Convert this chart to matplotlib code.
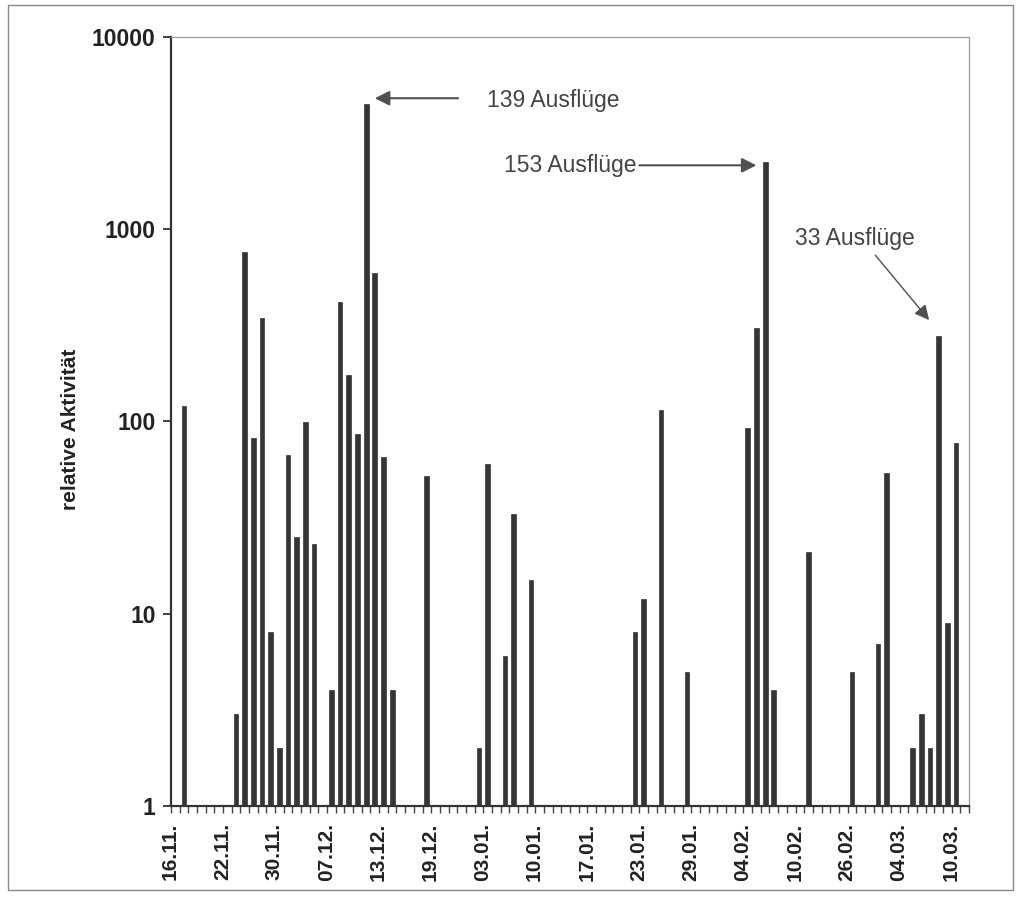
import matplotlib
matplotlib.use("Agg")
import matplotlib.pyplot as plt
import matplotlib.patches as patches
import matplotlib.transforms as mtransforms
import numpy as np

plt.rcParams['font.family'] = ['Liberation Sans', 'DejaVu Sans']

### data: category slot of each day with activity, and the activity value
n_slots = 92
slot = [1, 7, 8, 9, 10, 11, 12, 13, 14, 15, 16, 18, 19, 20, 21, 22, 23, 24, 25, 29,
        35, 36, 38, 39, 41, 53, 54, 56, 59,
        66, 67, 68, 69, 73, 78, 81, 82, 85, 86, 87, 88, 89, 90]
activity = [120, 3, 760, 82, 345, 8, 2, 67, 25, 99, 23, 4, 420, 175, 86, 4500, 590, 65, 4, 52,
            2, 60, 6, 33, 15, 8, 12, 115, 5,
            93, 305, 2250, 4, 21, 5, 7, 54, 2, 3, 2, 280, 9, 77]
date_labels = ["16.11.", "22.11.", "30.11.", "07.12.", "13.12.", "19.12.", "03.01.", "10.01.",
               "17.01.", "23.01.", "29.01.", "04.02.", "10.02.", "26.02.", "04.03.", "10.03."]
label_every = 6

fig = plt.figure(figsize=(10.2, 9.08), dpi=100)
ax = fig.add_axes([0.1676, 0.1123, 0.7824, 0.847])

bar_col = '#353535'
ax.bar(slot, np.array(activity) - 1, bottom=1, width=0.55, color=bar_col, edgecolor=bar_col, linewidth=0.5)

ax.set_yscale('log')
ax.set_ylim(1, 10000)
ax.set_xlim(-0.5, n_slots - 0.5)

# y axis
ax.set_yticks([1, 10, 100, 1000, 10000])
ax.set_yticklabels(["1", "10", "100", "1000", "10000"], fontweight='bold')
ax.yaxis.set_minor_locator(matplotlib.ticker.NullLocator())
ax.tick_params(axis='y', direction='out', length=6, width=1.2, labelsize=16.5, pad=5, colors='#222222')
fig.text(70 / 1020, 1 - 429 / 908, "relative Aktivität", rotation=90, ha='center', va='center',
         fontsize=15, fontweight='bold', color='#222222')

# x axis: small tick at each slot boundary, date every 6 slots
ax.set_xticks(np.arange(n_slots + 1) - 0.5, minor=True)
ax.set_xticks(np.arange(len(date_labels)) * label_every)
ax.set_xticklabels(date_labels, rotation=90, fontsize=15, fontweight='bold', color='#222222')
ax.tick_params(axis='x', which='major', length=0, pad=12)
ax.tick_params(axis='x', which='minor', direction='out', length=5, width=1.0, colors='#444444')
shift = mtransforms.ScaledTranslation(-5 / 100, 0, fig.dpi_scale_trans)
for lab in ax.get_xticklabels():
    lab.set_transform(lab.get_transform() + shift)

for s in ['left', 'bottom']:
    ax.spines[s].set_linewidth(1.6)
    ax.spines[s].set_color('#333333')
for s in ['top', 'right']:
    ax.spines[s].set_linewidth(0.9)
    ax.spines[s].set_color('#999999')

# annotations
arrow = dict(arrowstyle='-|>', mutation_scale=22, color='#505050', lw=1.5, shrinkA=0, shrinkB=0)
txt = dict(fontsize=16.5, color='#444444', va='center')
ax.annotate("", xy=(23.0, 4800), xytext=(32.6, 4800), arrowprops=arrow)
ax.text(35.9, 4700, "139 Ausflüge", ha='left', **txt)
ax.annotate("", xy=(67.0, 2150), xytext=(53.5, 2150), arrowprops=arrow)
ax.text(53.2, 2150, "153 Ausflüge", ha='right', **txt)
ax.annotate("", xy=(86.9, 337), xytext=(80.7, 733), arrowprops=dict(arrow, lw=1.0))
ax.text(71.4, 900, "33 Ausflüge", ha='left', **txt)

# outer frame
fig.patches.append(patches.Rectangle((0.0078, 0.02), 0.985, 0.9745, fill=False,
                                     edgecolor='#888888', lw=1.0, transform=fig.transFigure))

fig.savefig("out.png", dpi=100)
